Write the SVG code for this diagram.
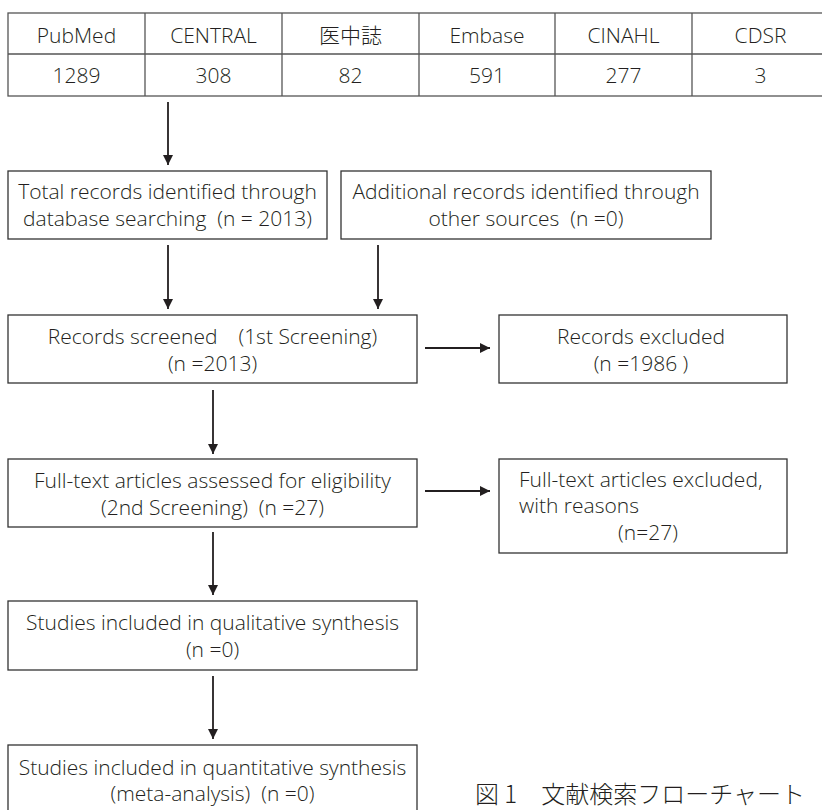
<svg xmlns="http://www.w3.org/2000/svg" width="822" height="810" viewBox="0 0 822 810">
<defs>
<style>
.t{font-family:"Open Sans","Noto Sans CJK JP",sans-serif;font-weight:300;font-size:21px;fill:#231f20;white-space:pre}
.c{text-anchor:middle}
.box{fill:#fff;stroke:#333;stroke-width:1.3}
.tl{stroke:#555;stroke-width:1.3;fill:none}
.ar{stroke:#231f20;stroke-width:1.8;fill:none;marker-end:url(#ah)}
.cap{font-family:"Noto Sans CJK JP",sans-serif;font-weight:300;font-size:24px;fill:#231f20}
</style>
<marker id="ah" markerUnits="userSpaceOnUse" markerWidth="12" markerHeight="12" refX="10" refY="5" orient="auto">
<path d="M0,0 L10,5 L0,10 Z" fill="#231f20"/>
</marker>
</defs>
<rect width="822" height="810" fill="#fff"/>

<g id="table">
<rect class="tl" x="8" y="13" width="822" height="83"/>
<line class="tl" x1="8" y1="54" x2="830" y2="54"/>
<line class="tl" x1="145" y1="13" x2="145" y2="96"/>
<line class="tl" x1="282" y1="13" x2="282" y2="96"/>
<line class="tl" x1="419" y1="13" x2="419" y2="96"/>
<line class="tl" x1="555" y1="13" x2="555" y2="96"/>
<line class="tl" x1="692" y1="13" x2="692" y2="96"/>
<text class="t c" x="76.5" y="43">PubMed</text>
<text class="t c" x="213.5" y="43">CENTRAL</text>
<text class="t c" x="350.5" y="43">医中誌</text>
<text class="t c" x="487" y="43">Embase</text>
<text class="t c" x="623.5" y="43">CINAHL</text>
<text class="t c" x="760.5" y="43">CDSR</text>
<text class="t c" x="76.5" y="83">1289</text>
<text class="t c" x="213.5" y="83">308</text>
<text class="t c" x="350.5" y="83">82</text>
<text class="t c" x="487" y="83">591</text>
<text class="t c" x="623.5" y="83">277</text>
<text class="t c" x="760.5" y="83">3</text>
</g>

<g id="total">
<rect class="box" x="8" y="171" width="319" height="68"/>
<text class="t c" x="167.5" y="199">Total records identified through</text>
<text class="t c" x="167.5" y="226">database searching  (n = 2013)</text>
</g>

<g id="additional">
<rect class="box" x="341" y="171" width="370" height="68"/>
<text class="t c" x="526" y="199">Additional records identified through</text>
<text class="t c" x="526" y="226">other sources  (n =0)</text>
</g>

<g id="screened">
<rect class="box" x="8" y="315" width="409" height="68"/>
<text class="t c" x="212.5" y="344">Records screened　(1st Screening)</text>
<text class="t c" x="212.5" y="371">(n =2013)</text>
</g>

<g id="excluded">
<rect class="box" x="499" y="315" width="288" height="68"/>
<text class="t c" x="641" y="344">Records excluded</text>
<text class="t c" x="641" y="371">(n =1986 )</text>
</g>

<g id="fulltext">
<rect class="box" x="8" y="459" width="409" height="68"/>
<text class="t c" x="212.5" y="488">Full-text articles assessed for eligibility</text>
<text class="t c" x="212.5" y="515">(2nd Screening)  (n =27)</text>
</g>

<g id="ftexcluded">
<rect class="box" x="499" y="459" width="288" height="94"/>
<text class="t" x="519" y="487">Full-text articles excluded,</text>
<text class="t" x="519" y="513">with reasons</text>
<text class="t c" x="648" y="540">(n=27)</text>
</g>

<g id="qualitative">
<rect class="box" x="8" y="601" width="409" height="69"/>
<text class="t c" x="212.5" y="630">Studies included in qualitative synthesis</text>
<text class="t c" x="212.5" y="657">(n =0)</text>
</g>

<g id="quantitative">
<rect class="box" x="8" y="745" width="409" height="70"/>
<text class="t c" x="212.5" y="775">Studies included in quantitative synthesis</text>
<text class="t c" x="212.5" y="801">(meta-analysis)  (n =0)</text>
</g>

<g id="connectors">
<line class="ar" x1="168" y1="102" x2="168" y2="165"/>
<line class="ar" x1="168" y1="245" x2="168" y2="309"/>
<line class="ar" x1="378" y1="245" x2="378" y2="309"/>
<line class="ar" x1="425" y1="348" x2="490" y2="348"/>
<line class="ar" x1="213" y1="390" x2="213" y2="454"/>
<line class="ar" x1="425" y1="491" x2="490" y2="491"/>
<line class="ar" x1="213" y1="532" x2="213" y2="595"/>
<line class="ar" x1="213" y1="676" x2="213" y2="739"/>
</g>

<text class="cap" x="475" y="803">図 1　文献検索フローチャート</text>
</svg>
